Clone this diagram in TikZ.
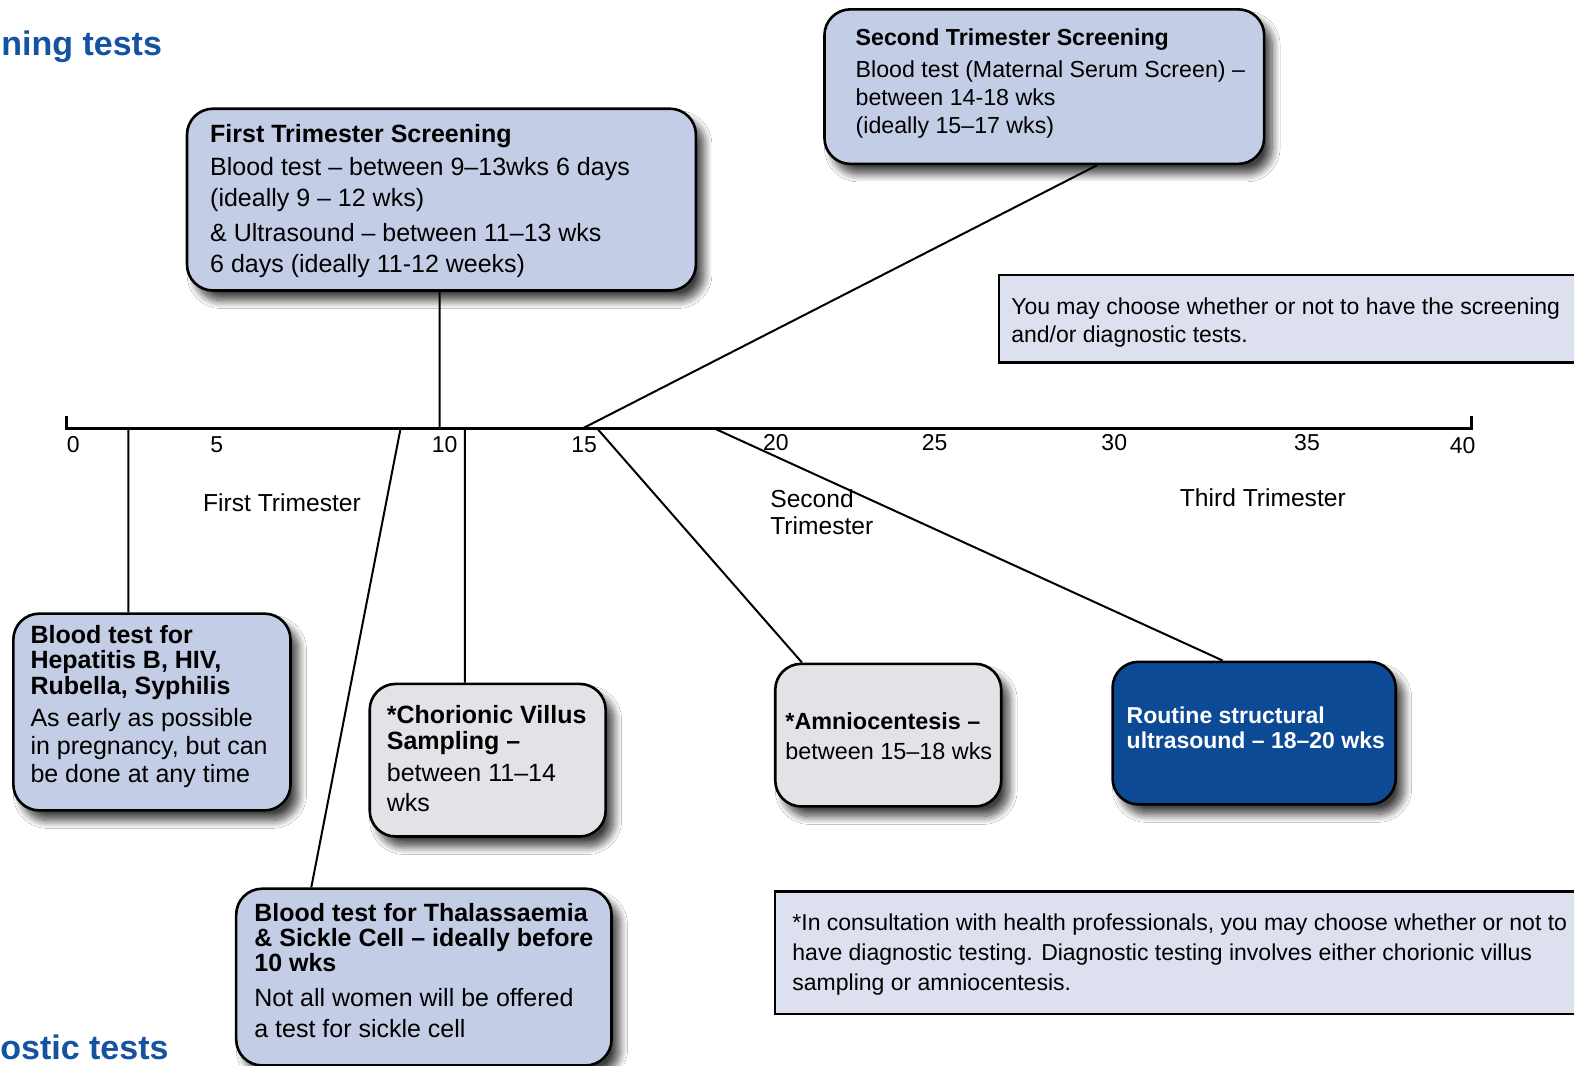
\documentclass[tikz,border=0pt]{standalone}
\usepackage{fontspec}
\setmainfont{Liberation Sans}
\usetikzlibrary{shadows.blur}
\definecolor{boxblue}{RGB}{196,205,230}
\definecolor{boxgray}{RGB}{226,227,231}
\definecolor{boxdark}{RGB}{12,74,150}
\definecolor{notefill}{RGB}{221,224,239}
\definecolor{titleblue}{RGB}{20,82,162}
\begin{document}
\begin{tikzpicture}[x=0.502pt,y=-0.502pt,
  box/.style={draw=black, line width=1.3pt, rounded corners=13pt, anchor=north west, inner sep=0pt,
     blur shadow={shadow xshift=4pt, shadow yshift=-5pt, shadow blur radius=4pt, shadow blur steps=12, shadow opacity=75}},
  notebox/.style={draw=black, line width=1.1pt, fill=notefill, anchor=north west, inner sep=0pt},
  txt/.style={anchor=north west, align=left, inner sep=0pt, font=\fontsize{12.5}{15.5}\selectfont},
  notetxt/.style={anchor=north west, align=left, inner sep=0pt, font=\fontsize{11.5}{14.5}\selectfont},
  tick/.style={anchor=base, inner sep=0pt, font=\fontsize{11.5}{13.5}\selectfont},
  trim/.style={anchor=base west, align=left, inner sep=0pt, font=\fontsize{12.3}{13.5}\selectfont},
  ttl/.style={anchor=base west, inner sep=0pt, text=titleblue, font=\fontsize{17}{20}\selectfont\bfseries},
  conn/.style={line width=1pt},
  axis/.style={line width=1.3pt}
]
\useasboundingbox[fill=white] (0,0) rectangle (1568,1061);

% titles
\node[ttl] (ttop) at (1,55) {ning tests};
\node[ttl] (tbot) at (0,1055) {ostic tests};

% axis
\coordinate (ax0) at (66,427);
\coordinate (ax40) at (1466,427);
\draw[axis] ([yshift=6.5pt]ax0) -- (ax0) -- (ax40) -- ([yshift=6.5pt]ax40);
\coordinate (aHep) at (128,427);
\coordinate (aThal) at (399,427);
\coordinate (aFT) at (438,427);
\coordinate (aCVS) at (463,427);
\coordinate (aST) at (580,427);
\coordinate (aAm) at (595,427);
\coordinate (aRo) at (712,427);

% tick labels
\node[tick] (l0) at (73,451) {0};
\node[tick] (l5) at (216,451) {5};
\node[tick] (l10) at (443,451) {10};
\node[tick] (l15) at (582,451) {15};
\node[tick] (l20) at (773,449) {20};
\node[tick] (l25) at (931,449) {25};
\node[tick] (l30) at (1110,449) {30};
\node[tick] (l35) at (1302,449) {35};
\node[tick] (l40) at (1457,452) {40};

\node[trim] (tri1) at (202,510) {First Trimester};
\node[trim] (tri2) at (767,532) {Second\\Trimester};
\node[trim] (tri3) at (1175,505) {Third Trimester};

% boxes
\node[box, fill=boxblue, minimum width=254.5pt, minimum height=90.9pt] (ft) at (185,107) {};
\node[txt] (ftT) at (209,124) {\textbf{First Trimester Screening}\\[1pt]
  Blood test – between 9–13wks 6 days\\
  (ideally 9 – 12 wks)\\[2pt]
  \& Ultrasound – between 11–13 wks\\
  6 days (ideally 11-12 weeks)};

\node[box, fill=boxblue, minimum width=219.9pt, minimum height=77.3pt] (st) at (820,8) {};
\node[txt, font=\fontsize{11.6}{14}\selectfont] (stT) at (852,28) {\textbf{Second Trimester Screening}\\[2pt]
  Blood test (Maternal Serum Screen) –\\
  between 14-18 wks\\
  (ideally 15–17 wks)};

\node[box, fill=boxblue, minimum width=138.6pt, minimum height=98.4pt] (hep) at (12,610) {};
\node[txt, font=\fontsize{12.5}{14}\selectfont] (hepT) at (30,623) {\textbf{Blood test for}\\[-1.5pt]
  \textbf{Hepatitis B, HIV,}\\[-1pt]
  \textbf{Rubella, Syphilis}\\[2pt]
  As early as possible\\
  in pregnancy, but can\\
  be done at any time};

\node[box, fill=boxgray, minimum width=118pt, minimum height=76.3pt] (cvs) at (367,680) {};
\node[txt, font=\fontsize{12.5}{15}\selectfont] (cvsT) at (385,702) {\textbf{*Chorionic Villus}\\[-2pt]
  \textbf{Sampling –}\\[1pt]
  between 11–14\\
  wks};

\node[box, fill=boxblue, minimum width=187.7pt, minimum height=88.4pt] (thal) at (234,884) {};
\node[txt] (thalT) at (253,900) {\textbf{Blood test for Thalassaemia}\\[-3pt]
  \textbf{\& Sickle Cell – ideally before}\\[-3pt]
  \textbf{10 wks}\\[2pt]
  Not all women will be offered\\
  a test for sickle cell};

\node[box, fill=boxgray, minimum width=113pt, minimum height=71.3pt] (am) at (771,660) {};
\node[txt, font=\fontsize{11.7}{15}\selectfont] (amT) at (782,709) {\textbf{*Amniocentesis –}\\
  between 15–18 wks};

\node[box, fill=boxdark, minimum width=141.6pt, minimum height=71.3pt] (ro) at (1107,658) {};
\node[txt, text=white, font=\fontsize{11.5}{12.5}\selectfont\bfseries] (roT) at (1122,704) {Routine structural\\
  ultrasound – 18–20 wks};

% notes
\node[notebox, minimum width=294pt, minimum height=43.7pt] (nb) at (994,273) {};
\node[notetxt, font=\fontsize{11.5}{14}\selectfont] (nbT) at (1007,296) {You may choose whether or not to have the screening\\
  and/or diagnostic tests.};

\node[notebox, minimum width=406pt, minimum height=61.2pt] (fn) at (771,887) {};
\node[notetxt, font=\fontsize{11.5}{15}\selectfont] (fnT) at (789,910) {*In consultation with health professionals, you may choose whether or not to\\
  have diagnostic testing. Diagnostic testing involves either chorionic villus\\
  sampling or amniocentesis.};

% connectors
\draw[conn] (aHep) -- ([xshift=58.2pt]hep.north west);
\draw[conn] (aThal) -- ([xshift=38.2pt]thal.north west);
\draw[conn] ([xshift=127pt]ft.south west) -- (aFT);
\draw[conn] (aCVS) -- ([xshift=48.2pt]cvs.north west);
\draw[conn] (aST) -- ([xshift=137pt]st.south west);
\draw[conn] (aAm) -- ([xshift=14pt]am.north west);
\draw[conn] (aRo) -- ([xshift=55.7pt]ro.north west);
\end{tikzpicture}
\end{document}
